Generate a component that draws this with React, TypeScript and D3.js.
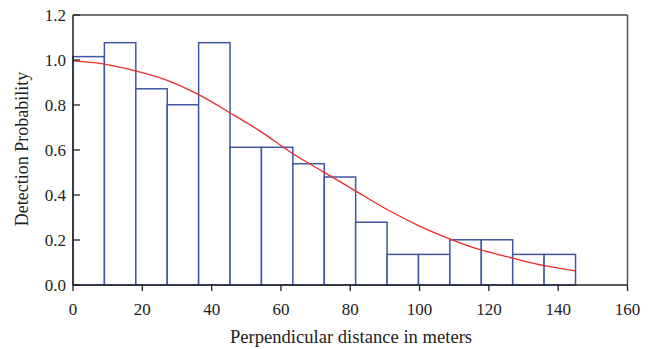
import React from "react";
import * as d3 from "d3";

const binWidth = 145 / 16;
const barHeights = [1.015, 1.077, 0.872, 0.801, 1.077, 0.612, 0.612, 0.539, 0.48, 0.279, 0.136, 0.136, 0.201, 0.201, 0.136, 0.136];
const curveX = [0, 9, 18, 27, 36, 45, 54, 63, 72, 81, 90, 100, 109, 117, 127, 136, 145];
const curveY = [0.996, 0.982, 0.952, 0.911, 0.848, 0.768, 0.684, 0.588, 0.505, 0.423, 0.341, 0.262, 0.203, 0.159, 0.119, 0.086, 0.063];
const xTicks = [0, 20, 40, 60, 80, 100, 120, 140, 160];
const yTicks = [0, 0.2, 0.4, 0.6, 0.8, 1.0, 1.2];

const W = 653, H = 349;
const m = { left: 73, top: 15, right: 25.5, bottom: 64 };
const FONT = "'Liberation Serif', 'DejaVu Serif', 'Times New Roman', serif";

export default function App() {
  const x = d3.scaleLinear().domain([0, 160]).range([m.left, W - m.right]);
  const y = d3.scaleLinear().domain([0, 1.2]).range([H - m.bottom, m.top]);
  const line = d3
    .line<number>()
    .x((_, i) => x(curveX[i]))
    .y((d) => y(d))
    .curve(d3.curveCatmullRom.alpha(0.5));
  const x0 = x(0), x1 = x(160), y0 = y(0), y1 = y(1.2);
  return (
    <svg width={W} height={H} style={{ position: "absolute", left: 0, top: 0, background: "#fff", fontFamily: FONT }}>
      <rect x={0} y={0} width={W} height={H} fill="#fff" />
      <line x1={x0} x2={x1} y1={y1} y2={y1} stroke="#444" strokeWidth={1.3} />
      <line x1={x1} x2={x1} y1={y1} y2={y0} stroke="#555" strokeWidth={1.5} />
      {barHeights.map((h, i) => (
        <rect
          key={i}
          x={x(i * binWidth)}
          y={y(h)}
          width={x((i + 1) * binWidth) - x(i * binWidth)}
          height={y0 - y(h)}
          fill="#fff"
          stroke="#3f57a6"
          strokeWidth={1.5}
        />
      ))}
      <path d={line(curveY) || ""} fill="none" stroke="#ee2a2a" strokeWidth={1.3} />
      <line x1={x0} x2={x0} y1={y1} y2={y0} stroke="#222" strokeWidth={1.5} />
      <line x1={x0} x2={x1} y1={y0} y2={y0} stroke="#222" strokeWidth={1.5} />
      {yTicks.map((t) => (
        <g key={t}>
          <line x1={x0} x2={x0 + 7} y1={y(t)} y2={y(t)} stroke="#222" strokeWidth={1.3} />
          <text x={x0 - 7} y={y(t)} dy="0.35em" textAnchor="end" fontSize={17} fill="#222">
            {t.toFixed(1)}
          </text>
        </g>
      ))}
      {xTicks.map((t) => (
        <g key={t}>
          <line x1={x(t)} x2={x(t)} y1={y0} y2={y0 + 6} stroke="#222" strokeWidth={1.3} />
          <text x={x(t)} y={y0 + 30} textAnchor="middle" fontSize={17} fill="#222">
            {t}
          </text>
        </g>
      ))}
      <text x={351} y={343} textAnchor="middle" fontSize={18.6} fill="#222">
        Perpendicular distance in meters
      </text>
      <text
        transform={`translate(28, 149) rotate(-90)`}
        textAnchor="middle"
        fontSize={18}
        fill="#222"
      >
        Detection Probability
      </text>
    </svg>
  );
}
